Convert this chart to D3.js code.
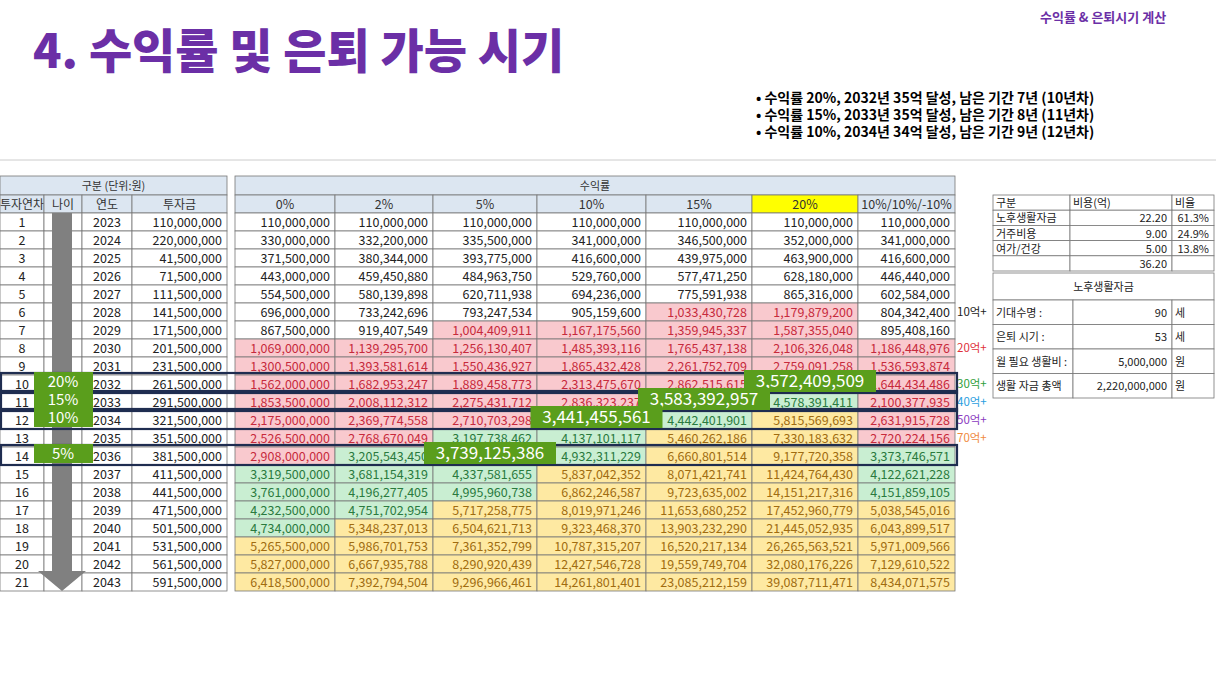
<!DOCTYPE html>
<html><head><meta charset="utf-8">
<script src="https://cdn.jsdelivr.net/npm/d3@7"></script>
<style>body{margin:0;background:#fff}svg{display:block;font-family:"Noto Sans CJK KR","Noto Sans",sans-serif}</style>
</head><body><svg id="c" width="1216" height="684"></svg>
<script>
// data
const years = d3.range(2023, 2044);
const invest = [110000000,220000000,41500000,71500000,111500000,141500000,171500000,201500000,231500000,261500000,291500000,321500000,351500000,381500000,411500000,441500000,471500000,501500000,531500000,561500000,591500000];
const rateLabels = ["0%","2%","5%","10%","15%","20%","10%/10%/-10%"];
const r0 = [110000000,330000000,371500000,443000000,554500000,696000000,867500000,1069000000,1300500000,1562000000,1853500000,2175000000,2526500000,2908000000,3319500000,3761000000,4232500000,4734000000,5265500000,5827000000,6418500000];
const r2 = [110000000,332200000,380344000,459450880,580139898,733242696,919407549,1139295700,1393581614,1682953247,2008112312,2369774558,2768670049,3205543450,3681154319,4196277405,4751702954,5348237013,5986701753,6667935788,7392794504];
const r5 = [110000000,335500000,393775000,484963750,620711938,793247534,1004409911,1256130407,1550436927,1889458773,2275431712,2710703298,3197738462,3739125386,4337581655,4995960738,5717258775,6504621713,7361352799,8290920439,9296966461];
const r10 = [110000000,341000000,416600000,529760000,694236000,905159600,1167175560,1485393116,1865432428,2313475670,2836323237,3441455561,4137101117,4932311229,5837042352,6862246587,8019971246,9323468370,10787315207,12427546728,14261801401];
const r15 = [110000000,346500000,439975000,577471250,775591938,1033430728,1359945337,1765437138,2261752709,2862515615,3583392957,4442401901,5460262186,6660801514,8071421741,9723635002,11653680252,13903232290,16520217134,19559749704,23085212159];
const r20 = [110000000,352000000,463900000,628180000,865316000,1179879200,1587355040,2106326048,2759091258,3572409509,4578391411,5815569693,7330183632,9177720358,11424764430,14151217316,17452960779,21445052935,26265563521,32080176226,39087711471];
const rMix = [110000000,341000000,416600000,446440000,602584000,804342400,895408160,1186448976,1536593874,1644434486,2100377935,2631915728,2720224156,3373746571,4122621228,4151859105,5038545016,6043899517,5971009566,7129610522,8434071575];
const series = [r0, r2, r5, r10, r15, r20, rMix];
// retirement points: [rate label, column index, year]
const hits = [["20%",5,2032],["15%",4,2033],["10%",3,2034],["5%",2,2036]];
const sideMarks = [["10억+",2028,"#222"],["20억+",2030,"#e0303a"],["30억+",2032,"#2e9e3a"],["40억+",2033,"#2a9ee0"],["50억+",2034,"#8a3ac0"],["70억+",2035,"#f08a40"]];
const costRows = [["구분","비용(억)","비율"],["노후생활자금","22.20","61.3%"],["거주비용","9.00","24.9%"],["여가/건강","5.00","13.8%"],["","36.20",""]];
const lifeRows = [["기대수명 :","90","세"],["은퇴 시기 :","53","세"],["월 필요 생활비 :","5,000,000","원"],["생활 자금 총액","2,220,000,000","원"]];
const bullets = ["수익률 20%, 2032년 35억 달성, 남은 기간 7년 (10년차)","수익률 15%, 2033년 35억 달성, 남은 기간 8년 (11년차)","수익률 10%, 2034년 34억 달성, 남은 기간 9년 (12년차)"];

const fmt = d3.format(",");
const svg = d3.select("#c");
const y = d3.scaleBand().domain(years).range([213, 591]);
const leftEdges = [0, 44, 82, 132, 227];
const rightEdges = [235, 335, 433, 537, 646, 752, 858, 955];
const fill = d3.scaleThreshold().domain([1e9, 3e9, 5e9]).range(["#fff", "#f9c9ce", "#c9eed2", "#fee9a2"]);
const ink = d3.scaleThreshold().domain([1e9, 3e9, 5e9]).range(["#222", "#c72a3c", "#2a7a3e", "#a06c10"]);
const hdrFill = "#dce6f1", line = "#777";

// titles
svg.append("text").attr("x", 33).attr("y", 68).attr("fill", "#6b2fa6").attr("font-size", 47).attr("font-weight", 900).text("4. 수익률 및 은퇴 가능 시기");
svg.append("text").attr("x", 1040).attr("y", 22).attr("fill", "#6b2fa6").attr("font-size", 13).attr("font-weight", 700).text("수익률 & 은퇴시기 계산");
svg.selectAll(".bul").data(bullets).join("text").attr("x", 756).attr("y", (d, i) => 103 + i * 17).attr("font-size", 14).attr("font-weight", 700).text(d => "•  " + d);
svg.append("line").attr("x1", 0).attr("x2", 1216).attr("y1", 160).attr("y2", 160).attr("stroke", "#ccc");

function cell(x0, x1, y0, h, bg, txt, color, anchor, size) {
  svg.append("rect").attr("x", x0).attr("y", y0).attr("width", x1 - x0).attr("height", h).attr("fill", bg).attr("stroke", line).attr("stroke-width", 0.8);
  if (txt === "") return;
  const tx = anchor === "end" ? x1 - 5 : anchor === "start" ? x0 + 3 : (x0 + x1) / 2;
  svg.append("text").attr("x", tx).attr("y", y0 + h / 2 + 4.5).attr("text-anchor", anchor).attr("fill", color).attr("font-size", size || 12.5).text(txt);
}

// left table
cell(0, 227, 176, 19, hdrFill, "구분 (단위:원)", "#333", "middle", 11);
["투자연차", "나이", "연도", "투자금"].forEach((t, i) => cell(leftEdges[i], leftEdges[i + 1], 195, 18, hdrFill, t, "#333", "middle", 12));
years.forEach((yr, i) => {
  const y0 = y(yr), h = y.bandwidth();
  cell(0, 44, y0, h, "#fff", String(i + 1), "#222", "middle");
  cell(44, 82, y0, h, "#fff", "", "#222", "middle");
  cell(82, 132, y0, h, "#fff", String(yr), "#222", "middle");
  cell(132, 227, y0, h, "#fff", fmt(invest[i]), "#222", "end");
});
// age arrow
svg.append("path").attr("fill", "#808080")
  .attr("d", `M52,${y(2023)}H72V${y(2043) - 2}H86L62,${y.range()[1]}L38,${y(2043) - 2}H52Z`);

// right table
const isHit = (j, yr) => hits.some(h => h[1] === j && h[2] === yr);
cell(235, 955, 176, 19, hdrFill, "수익률", "#333", "middle", 11);
rateLabels.forEach((t, j) => cell(rightEdges[j], rightEdges[j + 1], 195, 18, t === "20%" ? "#ffff00" : hdrFill, t, "#333", "middle", 12.5));
series.forEach((s, j) => s.forEach((v, i) => {
  cell(rightEdges[j], rightEdges[j + 1], y(years[i]), y.bandwidth(), fill(v), isHit(j, years[i]) ? "" : fmt(v), ink(v), "end");
}));

// side marks
sideMarks.forEach(([t, yr, c]) => svg.append("text").attr("x", 957).attr("y", y(yr) + 13).attr("fill", c).attr("font-size", 11.5).text(t));

// highlight boxes + badges
hits.forEach(([lab, j, yr]) => {
  const y0 = y(yr);
  svg.append("rect").attr("x", 1).attr("y", y0 - 2).attr("width", 956).attr("height", y.bandwidth() + 2).attr("fill", "none").attr("stroke", "#1f2d50").attr("stroke-width", 2.2);
});
hits.forEach(([lab, j, yr]) => {
  const y0 = y(yr);
  svg.append("rect").attr("x", 34).attr("y", y0 - 3).attr("width", 59).attr("height", 19).attr("fill", "#5a9e1c");
  svg.append("text").attr("x", 63).attr("y", y0 + 12).attr("text-anchor", "middle").attr("fill", "#fff").attr("font-size", 15).text(lab);
  const cx = (rightEdges[j] + rightEdges[j + 1]) / 2 + 5;
  svg.append("rect").attr("x", cx - 66).attr("y", y0 - 5).attr("width", 132).attr("height", 22).attr("fill", "#5a9e1c");
  svg.append("text").attr("x", cx).attr("y", y0 + 12).attr("text-anchor", "middle").attr("fill", "#fff").attr("font-size", 17).text(fmt(series[j][years.indexOf(yr)]));
});

// cost table
const cx1 = [993, 1070, 1172, 1214];
costRows.forEach((r, i) => r.forEach((t, k) => {
  cell(cx1[k], cx1[k + 1], 195 + i * 15.2, 15.2, "#fff", t, "#222", i === 0 || k === 0 ? "start" : "end", 11);
}));
// life table
const cx2 = [993, 1073, 1172, 1214];
cell(993, 1214, 273, 27, "#fff", "노후생활자금", "#222", "middle", 11);
lifeRows.forEach((r, i) => r.forEach((t, k) => {
  cell(cx2[k], cx2[k + 1], 300 + i * 24.5, 24.5, "#fff", t, "#222", k === 1 ? "end" : "start", 11);
}));
</script></body></html>
